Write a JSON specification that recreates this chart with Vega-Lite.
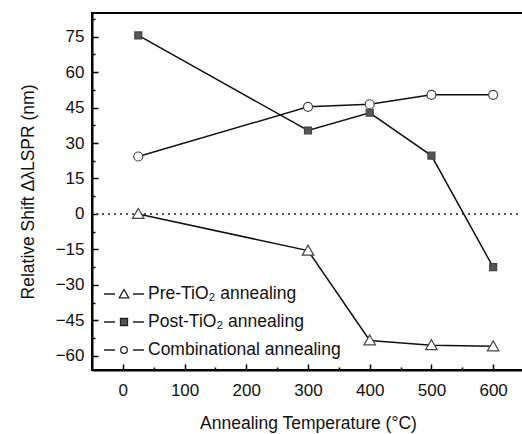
{
  "$schema": "https://vega.github.io/schema/vega-lite/v6.json",
  "width": 432,
  "height": 357,
  "autosize": {"type": "none"},
  "padding": {"left": 92, "top": 13, "right": 0, "bottom": 64},
  "background": "white",
  "config": {
    "font": "Liberation Sans",
    "view": {"stroke": "black", "strokeWidth": 2},
    "axis": {
      "labelFont": "Liberation Sans",
      "titleFont": "Liberation Sans",
      "labelFontSize": 17,
      "titleFontSize": 17.5,
      "titleFontWeight": "normal",
      "labelColor": "#111",
      "titleColor": "#111",
      "domainColor": "black",
      "domainWidth": 2,
      "tickColor": "black",
      "tickWidth": 1.5,
      "tickSize": -6,
      "grid": false
    },
    "legend": {
      "orient": "none",
      "legendX": 21,
      "legendY": 270,
      "padding": 0,
      "symbolSize": 400,
      "symbolStrokeColor": "#222",
      "symbolStrokeWidth": 1.3,
      "labelFontSize": 17.5,
      "labelFont": "Liberation Sans",
      "labelColor": "#111",
      "labelOffset": 13,
      "labelLimit": 400,
      "rowPadding": 8
    }
  },
  "data": {
    "values": [
      {"temp": 25, "shift": 0, "series": "Pre-TiO₂ annealing"},
      {"temp": 300, "shift": -15.5, "series": "Pre-TiO₂ annealing"},
      {"temp": 400, "shift": -53.5, "series": "Pre-TiO₂ annealing"},
      {"temp": 500, "shift": -55.5, "series": "Pre-TiO₂ annealing"},
      {"temp": 600, "shift": -56, "series": "Pre-TiO₂ annealing"},
      {"temp": 25, "shift": 75.5, "series": "Post-TiO₂ annealing"},
      {"temp": 300, "shift": 35.3, "series": "Post-TiO₂ annealing"},
      {"temp": 400, "shift": 42.8, "series": "Post-TiO₂ annealing"},
      {"temp": 500, "shift": 24.7, "series": "Post-TiO₂ annealing"},
      {"temp": 600, "shift": -22.5, "series": "Post-TiO₂ annealing"},
      {"temp": 25, "shift": 24.3, "series": "Combinational annealing"},
      {"temp": 300, "shift": 45.3, "series": "Combinational annealing"},
      {"temp": 400, "shift": 46.4, "series": "Combinational annealing"},
      {"temp": 500, "shift": 50.4, "series": "Combinational annealing"},
      {"temp": 600, "shift": 50.4, "series": "Combinational annealing"}
    ]
  },
  "resolve": {"axis": {"x": "independent", "y": "independent"}},
  "layer": [
    {
      "mark": {"type": "rule", "color": "#555", "strokeWidth": 1, "strokeDash": [2, 4]},
      "encoding": {"y": {"datum": 0, "type": "quantitative", "scale": {"domain": [-66, 85], "nice": false, "zero": false}, "axis": null}}
    },
    {
      "mark": {"type": "line", "color": "#111", "strokeWidth": 1.5},
      "encoding": {
        "x": {
          "field": "temp",
          "type": "quantitative",
          "scale": {"domain": [-50, 650], "nice": false, "zero": false},
          "axis": {
            "orient": "bottom",
            "title": "Annealing Temperature (°C)",
            "values": [0, 100, 200, 300, 400, 500, 600],
            "labelPadding": 18,
            "titlePadding": 16
          }
        },
        "y": {
          "field": "shift",
          "type": "quantitative",
          "scale": {"domain": [-66, 85], "nice": false, "zero": false},
          "axis": {
            "orient": "left",
            "title": "Relative Shift ΔλLSPR (nm)",
            "values": [-60, -45, -30, -15, 0, 15, 30, 45, 60, 75],
            "labelPadding": 14,
            "titlePadding": 18
          }
        },
        "detail": {"field": "series"}
      }
    },
    {
      "mark": {"type": "point", "filled": true, "stroke": "#444", "strokeWidth": 1.2, "opacity": 1, "size": 100},
      "encoding": {
        "x": {"field": "temp", "type": "quantitative", "axis": null},
        "y": {"field": "shift", "type": "quantitative", "axis": null},
        "shape": {
          "condition": [
            {"test": "datum.series == 'Pre-TiO₂ annealing'", "value": "M0,-1.1L1.15,0.9L-1.15,0.9Z"},
            {"test": "datum.series == 'Post-TiO₂ annealing'", "value": "M-0.7,-0.7H0.7V0.7H-0.7Z"}
          ],
          "value": "M0.9,0A0.9,0.9,0,1,1,-0.9,0A0.9,0.9,0,1,1,0.9,0Z"
        },
        "fill": {
          "condition": {"test": "datum.series == 'Post-TiO₂ annealing'", "value": "#555"},
          "value": "white"
        }
      }
    },
    {
      "transform": [{"filter": "false"}],
      "mark": {"type": "point", "filled": true, "opacity": 1},
      "encoding": {
        "x": {
          "field": "temp",
          "type": "quantitative",
          "axis": {"orient": "bottom", "values": [50, 150, 250, 350, 450, 550], "tickSize": -3, "labels": false, "domain": false, "title": null}
        },
        "y": {
          "field": "shift",
          "type": "quantitative",
          "axis": {"orient": "left", "values": [-52.5, -37.5, -22.5, -7.5, 7.5, 22.5, 37.5, 52.5, 67.5, 82.5], "tickSize": -3, "labels": false, "domain": false, "title": null}
        },
        "shape": {
          "field": "series",
          "type": "nominal",
          "scale": {
            "domain": ["Pre-TiO₂ annealing", "Post-TiO₂ annealing", "Combinational annealing"],
            "range": ["M-2,0H-0.9M0.9,0H2M0,-0.45L0.48,0.38L-0.48,0.38Z", "M-2,0H-0.9M0.9,0H2M-0.35,-0.35H0.35V0.35H-0.35Z", "M-2,0H-0.9M0.9,0H2M0.33,0A0.33,0.33,0,1,1,-0.33,0A0.33,0.33,0,1,1,0.33,0Z"]
          },
          "legend": {"title": null}
        },
        "fill": {
          "field": "series",
          "type": "nominal",
          "scale": {
            "domain": ["Pre-TiO₂ annealing", "Post-TiO₂ annealing", "Combinational annealing"],
            "range": ["white", "#555", "white"]
          },
          "legend": {"title": null}
        },
        "stroke": {
          "field": "series",
          "type": "nominal",
          "scale": {
            "domain": ["Pre-TiO₂ annealing", "Post-TiO₂ annealing", "Combinational annealing"],
            "range": ["#222", "#222", "#222"]
          },
          "legend": {"title": null}
        }
      }
    }
  ]
}
